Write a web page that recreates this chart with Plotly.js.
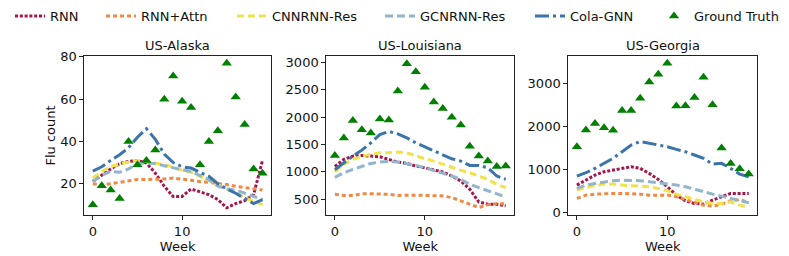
<!DOCTYPE html>
<html>
<head>
<meta charset="utf-8">
<script src="https://cdn.plot.ly/plotly-3.0.1.min.js"></script>
<style>html,body{margin:0;padding:0;background:#fff;}#chart{width:789px;height:256px;}</style>
</head>
<body>
<div id="chart"></div>
<script>
const weeks = [0,1,2,3,4,5,6,7,8,9,10,11,12,13,14,15,16,17,18,19];
const seriesNames = ['RNN','RNN+Attn','CNNRNN-Res','GCNRNN-Res','Cola-GNN','Ground Truth'];
const panelTitles = ['US-Alaska','US-Louisiana','US-Georgia'];

// US-Alaska
const akRnn   = [21,24,27,29.5,30.5,31,29.8,25,18.8,14,14,17.5,16,14.8,12.5,8.6,10.6,12,14.8,31];
const akAttn  = [20,19.5,20,20.7,21.6,22,22,22,22.2,22.7,22,21.6,21,20.7,20,19.6,18.8,18.3,17.7,17];
const akCnn   = [22.7,25.8,28,29.3,30.2,31,30.5,29.8,29,27.9,26.3,25.4,23.5,21.6,19.6,17.5,15.6,13.3,11.7,10.1];
const akGcn   = [21,24,25.8,25.4,27,29.5,29.8,29.5,28.5,27.4,26.6,25.8,24,21.9,18.8,17.5,17,15.6,14,12.5];
const akCola  = [26,28,31,33.7,37,42,46,41,34,30,28,27.4,25.4,23.5,20,17.5,15.5,13,10.6,12.5];
const akTruth = [10,19,17,13,40,29,31,36,60,71,59,56,29,40,45,77,61,48,27,25];

// US-Louisiana
const laRnn   = [1100,1228,1289,1301,1289,1277,1228,1180,1155,1107,1076,1034,998,925,834,682,451,409,409,379];
const laAttn  = [590,570,570,600,600,600,590,570,575,575,570,570,560,530,470,409,350,397,420,420];
const laCnn   = [1000,1137,1228,1289,1319,1350,1350,1362,1350,1289,1240,1198,1137,1076,1028,985,925,864,773,712];
const laGcn   = [900,985,1046,1107,1155,1180,1192,1180,1155,1119,1076,1028,985,925,864,773,712,652,591,542];
const laCola  = [1040,1167,1289,1398,1531,1683,1740,1695,1623,1531,1459,1380,1301,1240,1198,1119,1119,1076,925,864];
const laTruth = [1300,1620,1940,1770,1710,1970,1950,2480,2980,2830,2550,2280,2160,2000,1860,1470,1290,1200,1100,1110];

// US-Georgia
const gaRnn   = [642,758,874,951,990,1044,1067,1029,913,773,603,410,278,217,201,294,371,449,449,449];
const gaAttn  = [333,410,433,449,449,449,449,433,410,410,410,371,309,255,178,155,201,278,309,240];
const gaCnn   = [526,588,634,665,665,642,626,619,603,565,510,433,371,309,255,217,217,255,178,124];
const gaGcn   = [565,642,681,719,742,758,758,742,719,696,681,642,603,541,487,433,387,333,294,232];
const gaCola  = [850,928,1029,1145,1261,1415,1570,1650,1609,1570,1531,1469,1415,1338,1261,1129,1145,1029,897,835];
const gaTruth = [1530,1920,2070,1970,1910,2370,2370,2650,3030,3210,3460,2470,2480,2670,3140,2500,1500,1140,1020,900];

const akTicks = [20,40,60,80];
const laTicks = [500,1000,1500,2000,2500,3000];
const gaTicks = [0,1000,2000,3000];
const xTicks = [0,10];

const panels = [
  [akRnn, akAttn, akCnn, akGcn, akCola, akTruth],
  [laRnn, laAttn, laCnn, laGcn, laCola, laTruth],
  [gaRnn, gaAttn, gaCnn, gaGcn, gaCola, gaTruth]
];

const styles = [
  {color:'#a8134a', dash:'3px,1.8px', width:3},
  {color:'#ee8a43', dash:'4px,3px', width:3},
  {color:'#f1e24a', dash:'7px,4px', width:3},
  {color:'#92b5cc', dash:'8px,4px', width:3},
  {color:'#3a74aa', dash:'14px,4px,3px,4px', width:3}
];
const legendIds = ['legend','legend2','legend3','legend4','legend5','legend6'];

const traces = [];
panels.forEach((p, pi) => {
  const xa = pi === 0 ? 'x' : 'x' + (pi + 1);
  const ya = pi === 0 ? 'y' : 'y' + (pi + 1);
  for (let s = 0; s < 5; s++) {
    traces.push({
      x: weeks, y: p[s], type: 'scatter', mode: 'lines', name: seriesNames[s],
      xaxis: xa, yaxis: ya, line: styles[s], legend: legendIds[s],
      showlegend: pi === 0, hoverinfo: 'skip'
    });
  }
  traces.push({
    x: weeks, y: p[5], type: 'scatter', mode: 'markers', name: seriesNames[5],
    xaxis: xa, yaxis: ya, legend: legendIds[5],
    marker: {symbol: 'triangle-up', size: 9, color: '#008000'},
    showlegend: pi === 0, hoverinfo: 'skip'
  });
});

const W = 789, H = 256;
const font = {family: 'DejaVu Sans', size: 13, color: '#111'};
const xDoms = [[84.3, 271], [326.3, 514.3], [568.3, 757.3]];
const yDom = [(H - 215) / H, (H - 56) / H];
const yRanges = [[5.2, 80.4], [212, 3120], [-50, 3630]];
const yTickSets = [akTicks, laTicks, gaTicks];

const layout = {
  width: W, height: H,
  margin: {l: 0, r: 0, t: 0, b: 0},
  paper_bgcolor: '#fff', plot_bgcolor: '#fff',
  font: font,
  annotations: []
};

for (let i = 0; i < 3; i++) {
  const xk = i === 0 ? 'xaxis' : 'xaxis' + (i + 1);
  const yk = i === 0 ? 'yaxis' : 'yaxis' + (i + 1);
  const yref = i === 0 ? 'y' : 'y' + (i + 1);
  const xref = i === 0 ? 'x' : 'x' + (i + 1);
  layout[xk] = {
    domain: [xDoms[i][0] / W, xDoms[i][1] / W], anchor: yref,
    range: [-0.95, 19.95], tickmode: 'array', tickvals: xTicks, ticktext: xTicks.map(String),
    showgrid: false, zeroline: false, showline: true, mirror: true, linecolor: '#222', linewidth: 1,
    ticks: 'outside', ticklen: 4, tickwidth: 1, tickcolor: '#222',
    tickfont: font,
    title: {text: 'Week', font: {family: 'DejaVu Sans', size: 13, color: '#111'}, standoff: 0}
  };
  layout[yk] = {
    domain: yDom, anchor: xref,
    range: yRanges[i], tickmode: 'array', tickvals: yTickSets[i], ticktext: yTickSets[i].map(String),
    showgrid: false, zeroline: false, showline: true, mirror: true, linecolor: '#222', linewidth: 1,
    ticks: 'outside', ticklen: 4, tickwidth: 1, tickcolor: '#222',
    tickfont: font
  };
  if (i === 0) {
    layout[yk].title = {text: 'Flu count', font: {family: 'DejaVu Sans', size: 13, color: '#111'}, standoff: 1};
  }
  layout.annotations.push({
    text: panelTitles[i], xref: 'paper', yref: 'paper',
    x: (xDoms[i][0] + xDoms[i][1]) / 2 / W, y: yDom[1],
    xanchor: 'center', yanchor: 'bottom', yshift: 1, showarrow: false,
    font: {family: 'DejaVu Sans', size: 13, color: '#111'}
  });
}

const legendX = [10, 101, 232, 380, 530, 654];
legendIds.forEach((id, k) => {
  layout[id] = {
    x: legendX[k] / W, xanchor: 'left', y: 1 - 16 / H, yanchor: 'middle',
    orientation: 'h', bgcolor: 'rgba(0,0,0,0)', borderwidth: 0,
    font: {family: 'DejaVu Sans', size: 13, color: '#111'}
  };
});

Plotly.newPlot('chart', traces, layout, {displayModeBar: false, staticPlot: true});
</script>
</body>
</html>
